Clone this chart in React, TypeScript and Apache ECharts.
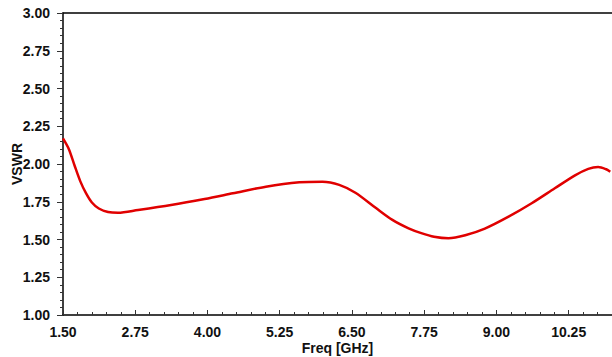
import React, { useEffect, useRef } from "react";
import * as echarts from "echarts";

const freqGHz = [1.5, 1.6, 1.7, 1.8, 1.9, 2.0, 2.12, 2.28, 2.45, 2.8, 3.37, 3.95, 4.44, 5.01, 5.59, 5.99, 6.28, 6.56, 6.91, 7.2, 7.48, 7.7, 7.92, 8.17, 8.46, 8.8, 9.21, 9.61, 10.01, 10.36, 10.59, 10.76, 10.9, 10.97];
const vswr = [2.17, 2.1, 1.99, 1.885, 1.805, 1.745, 1.705, 1.682, 1.677, 1.695, 1.728, 1.768, 1.806, 1.85, 1.879, 1.883, 1.862, 1.81, 1.71, 1.63, 1.574, 1.542, 1.518, 1.508, 1.528, 1.572, 1.651, 1.74, 1.839, 1.925, 1.968, 1.98, 1.965, 1.949];
const xStart = 1.5;
const xEnd = 11.0;
const xStep = 1.25;
const yTicks = [1.0, 1.25, 1.5, 1.75, 2.0, 2.25, 2.5, 2.75, 3.0];

const FONT = "'Liberation Sans', Arial, sans-serif";

export default function App() {
  const ref = useRef<HTMLDivElement>(null);
  useEffect(() => {
    if (!ref.current) return;
    const chart = echarts.init(ref.current, undefined, { renderer: "svg" });
    const data = freqGHz.map((f, i) => [f - xStart, vswr[i]]);
    chart.setOption({
      animation: false,
      backgroundColor: "#ffffff",
      grid: { left: 63, right: 0, top: 13, bottom: 42, outerBoundsMode: "none", containLabel: false },
      xAxis: [
        {
          type: "value",
          min: 0,
          max: xEnd - xStart,
          interval: xStep,
          name: "Freq [GHz]",
          nameLocation: "middle",
          nameGap: 26,
          nameMoveOverlap: false,
          nameTextStyle: { fontFamily: FONT, fontWeight: "bold", fontSize: 14, color: "#111" },
          axisLine: { show: true, onZero: false, lineStyle: { color: "#000", width: 1.5 } },
          axisTick: { show: true, inside: true, length: 5, lineStyle: { color: "#333", width: 1 } },
          minorTick: { show: true, splitNumber: 5, length: 3, lineStyle: { color: "#333", width: 1 } },
          splitLine: { show: false },
          axisLabel: {
            margin: 10,
            fontFamily: FONT,
            fontWeight: "bold",
            fontSize: 14,
            color: "#111",
            formatter: (v: number) => (v + xStart).toFixed(2),
            showMaxLabel: false,
          },
        },
        {
          type: "value",
          position: "top",
          min: 0,
          max: xEnd - xStart,
          axisLine: { show: true, onZero: false, lineStyle: { color: "#000", width: 1.5 } },
          axisTick: { show: false },
          axisLabel: { show: false },
          splitLine: { show: false },
        },
      ],
      yAxis: {
        type: "value",
        min: yTicks[0],
        max: yTicks[yTicks.length - 1],
        interval: 0.25,
        name: "VSWR",
        nameLocation: "middle",
        nameGap: 39,
        nameMoveOverlap: false,
        nameTextStyle: { fontFamily: FONT, fontWeight: "bold", fontSize: 14, color: "#111" },
        axisLine: { show: true, lineStyle: { color: "#000", width: 1.5 } },
        axisTick: { show: true, inside: false, length: 6, lineStyle: { color: "#333", width: 1 } },
        minorTick: { show: true, splitNumber: 5, length: 3, lineStyle: { color: "#333", width: 1 } },
        splitLine: { show: false },
        axisLabel: {
          margin: 13,
          fontFamily: FONT,
          fontWeight: "bold",
          fontSize: 14,
          color: "#111",
          formatter: (v: number) => v.toFixed(2),
        },
      },
      series: [
        {
          type: "line",
          data,
          smooth: 0.3,
          showSymbol: false,
          lineStyle: { color: "#e00000", width: 2.5 },
        },
      ],
    });
    return () => chart.dispose();
  }, []);
  return (
    <div
      ref={ref}
      style={{ position: "fixed", left: 0, top: 0, width: 612, height: 357, background: "#fff" }}
    />
  );
}
